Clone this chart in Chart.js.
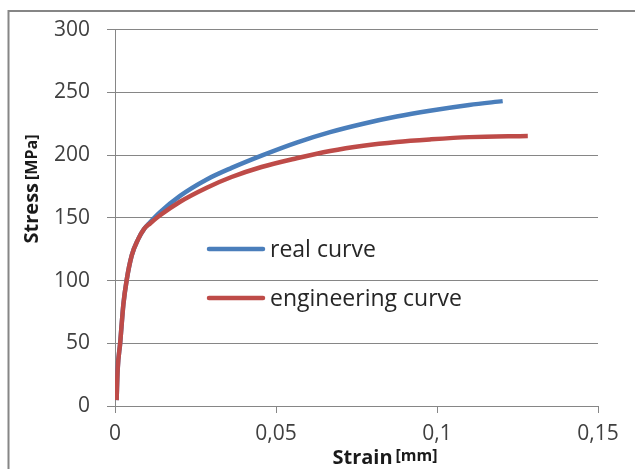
<!DOCTYPE html>
<html>
<head>
<meta charset="utf-8">
<script src="https://cdn.jsdelivr.net/npm/chart.js@4.4.1/dist/chart.umd.min.js"></script>
<style>
  html, body { margin: 0; padding: 0; background: #ffffff; }
  #wrap { width: 635px; height: 469px; }
</style>
</head>
<body>
<div id="wrap"><canvas id="stressChart" width="635" height="469"></canvas></div>
<script>
const realColor = '#4A7EBB'
const engColor = '#BE4B48'
const gridColor = '#868686'

// values
const seriesNames = ['real curve', 'engineering curve']
const strainReal = [0.0005, 0.0008, 0.0016, 0.0026, 0.0036, 0.0052, 0.0072, 0.0090, 0.0109, 0.0140, 0.0202, 0.0285, 0.0362, 0.0455, 0.0564, 0.0668, 0.0771, 0.0875, 0.0978, 0.1100, 0.1204]
const stressReal = [4.7, 28, 50, 81, 100, 120, 133, 141, 146.5, 154.5, 167.5, 180.6, 189.8, 199.6, 210, 218.3, 225, 230.7, 235.3, 239.9, 243]
const strainEng = [0.0005, 0.0008, 0.0016, 0.0026, 0.0036, 0.0052, 0.0072, 0.0090, 0.0109, 0.0140, 0.0202, 0.0285, 0.0362, 0.0455, 0.0564, 0.0668, 0.0771, 0.0875, 0.0978, 0.1100, 0.1282]
const stressEng = [4.7, 28, 50, 81, 100, 120, 133, 141, 145.5, 152, 162.8, 174, 182.5, 190.5, 197.5, 203.3, 207.5, 210.5, 212.5, 214.3, 215.2]
const xTickLabels = ['0', '0,05', '0,1', '0,15']
const yTickLabels = ['0', '50', '100', '150', '200', '250', '300']

function toPoints(xs, ys) {
  return xs.map((x, i) => ({ x: x, y: ys[i] }))
}

// outer frame, legend and the two-part axis titles
const decorations = {
  id: 'decorations',
  beforeDraw(chart) {
    const ctx = chart.ctx
    ctx.save()
    ctx.strokeStyle = gridColor
    ctx.lineWidth = 2
    ctx.beginPath()
    ctx.moveTo(8.5, 469)
    ctx.lineTo(8.5, 11)
    ctx.lineTo(635, 11)
    ctx.stroke()
    ctx.restore()
  },
  afterDraw(chart) {
    const ctx = chart.ctx
    ctx.save()

    // legend
    const legendY = [249, 298]
    chart.data.datasets.forEach((ds, i) => {
      ctx.strokeStyle = ds.borderColor
      ctx.lineWidth = 4.5
      ctx.lineCap = 'round'
      ctx.beginPath()
      ctx.moveTo(209, legendY[i])
      ctx.lineTo(263, legendY[i])
      ctx.stroke()
      ctx.fillStyle = '#262626'
      ctx.font = '23px "Open Sans"'
      ctx.textBaseline = 'middle'
      ctx.fillText(ds.label, 270, legendY[i] + 1)
    })

    ctx.fillStyle = '#1a1a1a'
    ctx.textBaseline = 'alphabetic'

    // x title
    ctx.font = 'bold 20px "Open Sans"'
    const w1 = ctx.measureText('Strain').width
    ctx.font = 'bold 16px "Open Sans"'
    const w2 = ctx.measureText('[mm]').width
    let start = 385 - (w1 + 3 + w2) / 2
    ctx.font = 'bold 20px "Open Sans"'
    ctx.fillText('Strain', start, 464)
    ctx.font = 'bold 16px "Open Sans"'
    ctx.fillText('[mm]', start + w1 + 3, 461)

    // y title
    ctx.translate(38, 189)
    ctx.rotate(-Math.PI / 2)
    ctx.font = 'bold 20px "Open Sans"'
    const h1 = ctx.measureText('Stress').width
    ctx.font = 'bold 16px "Open Sans"'
    const h2 = ctx.measureText('[MPa]').width
    start = -(h1 + 3 + h2) / 2
    ctx.font = 'bold 20px "Open Sans"'
    ctx.fillText('Stress', start, 0)
    ctx.font = 'bold 16px "Open Sans"'
    ctx.fillText('[MPa]', start + h1 + 3, -1)

    ctx.restore()
  }
}

new Chart(document.getElementById('stressChart'), {
  type: 'line',
  data: {
    datasets: [{
      label: seriesNames[0],
      data: toPoints(strainReal, stressReal),
      borderColor: realColor,
      borderWidth: 4.5,
      pointRadius: 0,
      cubicInterpolationMode: 'monotone',
      order: 1
    }, {
      label: seriesNames[1],
      data: toPoints(strainEng, stressEng),
      borderColor: engColor,
      borderWidth: 4.5,
      pointRadius: 0,
      cubicInterpolationMode: 'monotone',
      order: 0
    }]
  },
  options: {
    responsive: false,
    animation: false,
    devicePixelRatio: 1,
    layout: {
      padding: { top: 25, right: 37, left: 0, bottom: 0 }
    },
    scales: {
      x: {
        type: 'linear',
        min: 0,
        max: 0.15,
        afterFit(scale) { scale.height = 63 },
        ticks: {
          stepSize: 0.05,
          padding: 8,
          color: '#404040',
          font: { family: 'Open Sans', size: 21 },
          callback: (v, i) => xTickLabels[i]
        },
        grid: {
          drawOnChartArea: false,
          drawTicks: true,
          tickLength: 7,
          color: gridColor
        },
        border: { display: true, color: gridColor, width: 1 }
      },
      y: {
        min: 0,
        max: 300,
        afterFit(scale) { scale.width = 115 },
        ticks: {
          stepSize: 50,
          padding: 17,
          color: '#404040',
          font: { family: 'Open Sans', size: 21 },
          callback: (v, i) => yTickLabels[i]
        },
        grid: {
          color: gridColor,
          tickLength: 8,
          lineWidth: 1
        },
        border: { display: true, color: gridColor, width: 1 }
      }
    },
    plugins: {
      legend: { display: false },
      tooltip: { enabled: false }
    }
  },
  plugins: [decorations]
});
</script>
</body>
</html>
